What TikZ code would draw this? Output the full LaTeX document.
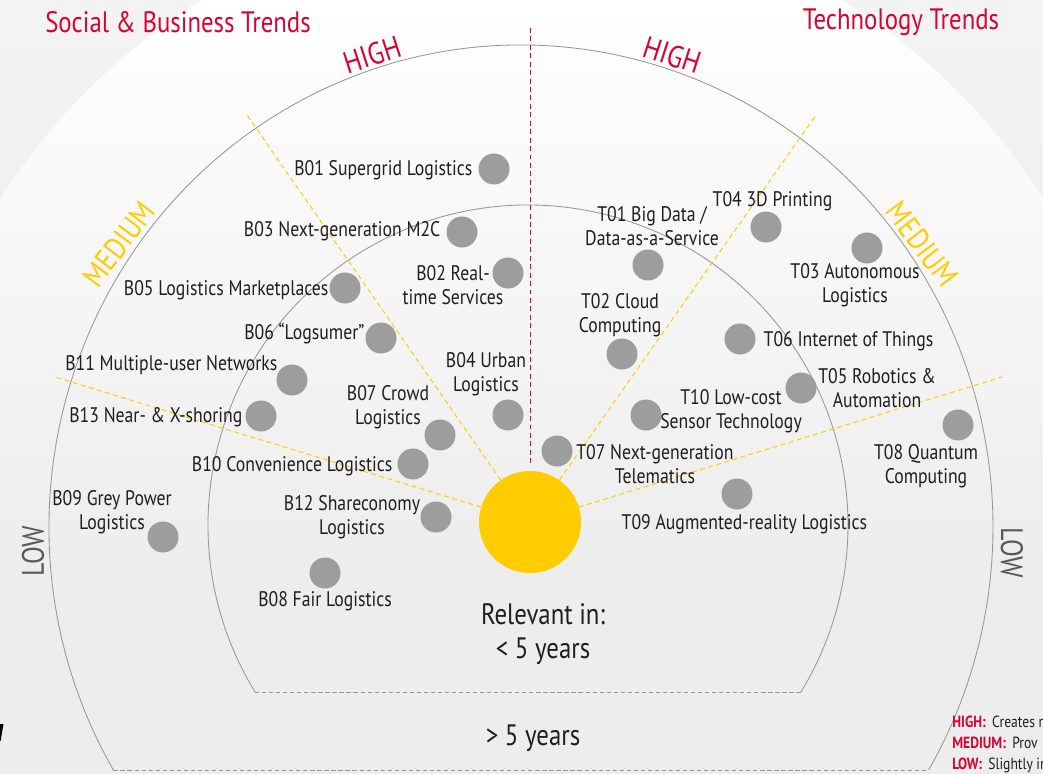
\documentclass[tikz,border=0pt]{standalone}
\usepackage{fontspec}
\setmainfont{PT Sans}[FakeStretch=0.84]
\usepackage{xcolor}
\usetikzlibrary{positioning, calc}
\definecolor{dhlred}{RGB}{212,5,50}
\definecolor{dhlyellow}{RGB}{255,204,0}
\definecolor{dotgray}{RGB}{157,157,157}
\definecolor{linegray}{RGB}{150,150,150}
\definecolor{bggray}{RGB}{237,237,237}
\definecolor{bgtop}{RGB}{243,243,243}
\definecolor{txt}{RGB}{30,30,30}

\tikzset{
  dot/.style={circle, fill=dotgray, inner sep=0pt, minimum size=0.775cm},
  lbl/.style={font=\fontsize{15}{17}\selectfont, text=txt, align=center, inner sep=1pt},
  level/.style={font=\fontsize{22}{24}\selectfont, inner sep=0pt},
  yline/.style={dhlyellow, line width=0.7pt, dash pattern=on 3.5pt off 2.5pt},
  arcline/.style={linegray, line width=0.6pt},
  legend/.style={font=\fontsize{11.5}{13}\selectfont, text=txt, anchor=west, inner sep=0pt},
}

\begin{document}
\begin{tikzpicture}[x=0.025cm, y=0.025cm]
  \useasboundingbox (0,0) rectangle (1043,-774);
  % background
  \fill[bggray] (0,0) rectangle (1043,-774);
  \shade[top color=bgtop, bottom color=bggray] (0,0) rectangle (1043,-560);
  \begin{scope}
    \clip (522,-527) circle (616);
    \shade[top color=white, bottom color=bggray] (0,0) rectangle (1043,-560);
  \end{scope}

  % rings
  \coordinate (o-l) at ($(521,-527)+(210.28:472 and 482)$);
  \coordinate (o-r) at ($(521,-527)+(-30.28:472 and 482)$);
  \coordinate (i-l) at ($(528,-525)+(211.46:320)$);
  \coordinate (i-r) at ($(528,-525)+(-31.46:320)$);
  \draw[arcline] (o-l) arc[start angle=210.28, end angle=-30.28, x radius=472, y radius=482];
  \draw[arcline] (i-l) arc[start angle=211.46, end angle=-31.46, radius=320];
  \draw[arcline, dash pattern=on 3pt off 2pt] (o-l) -- (o-r);
  \draw[arcline, dash pattern=on 3pt off 2pt] (i-l) -- (i-r);

  % sun and sector lines
  \node[circle, fill=dhlyellow, inner sep=0pt, minimum size=2.55cm] (sun) at (530,-522) {};
  \coordinate (rtop) at (530,-28);
  \coordinate (e1) at (247,-115);
  \coordinate (e2) at (816,-115);
  \coordinate (e3) at (55,-377);
  \coordinate (e4) at (1002,-377);
  \draw[dhlred, line width=0.7pt, dash pattern=on 3.5pt off 2.5pt] (rtop) -- ([yshift=3.5pt]sun.north);
  \draw[yline] (sun.125) -- (e1);
  \draw[yline] (sun.55) -- (e2);
  \draw[yline] (sun.163) -- (e3);
  \draw[yline] (sun.17) -- (e4);

  % titles and levels
  \node[font=\fontsize{21}{24}\selectfont, text=dhlred] (ttl-b) at (178,-22) {Social \& Business Trends};
  \node[font=\fontsize{21}{24}\selectfont, text=dhlred] (ttl-t) at (901,-22) {Technology Trends};
  \node[level, text=dhlred, rotate=18] (hi-b) at (372,-55) {HIGH};
  \node[level, text=dhlred, rotate=-18] (hi-t) at (672,-55) {HIGH};
  \node[level, text=dhlyellow, rotate=53] (med-b) at (119,-244) {MEDIUM};
  \node[level, text=dhlyellow, rotate=-53] (med-t) at (922,-244) {MEDIUM};
  \node[level, text=black!65, rotate=90] (low-b) at (33,-551) {LOW};
  \node[level, text=black!65, rotate=-90] (low-t) at (1012,-553) {LOW};

  % trend dots
  \foreach \n/\x/\y in {b01/494/169, b03/462/232, b02/508/273, b05/345/288, b06/381/338,
      b11/292/380, b13/261/416, b04/508/415, b07/440/435, b10/413/464, b12/436/517,
      b09/163/537, b08/325/573, t01/648/265, t04/766/227, t03/867/248, t02/622/354,
      t06/740/339, t05/801/388, t10/646/415, t07/557/451, t08/958/425, t09/737/494}
    \node[dot] (\n) at (\x,-\y) {};

  % social & business labels
  \node[lbl, anchor=east] (b01-l) at (474,-170) {B01 Supergrid Logistics};
  \node[lbl, anchor=east] (b03-l) at (442,-231) {B03 Next-generation M2C};
  \node[lbl] (b02-l) at (453,-285) {B02 Real-\\time Services};
  \node[lbl, anchor=east] (b05-l) at (330,-290) {B05 Logistics Marketplaces};
  \node[lbl, anchor=east] (b06-l) at (366,-334) {B06 “Logsumer”};
  \node[lbl, anchor=east] (b11-l) at (279,-365) {B11 Multiple-user Networks};
  \node[lbl, anchor=east] (b13-l) at (244,-417) {B13 Near- \& X-shoring};
  \node[lbl] (b07-l) at (388,-407) {B07 Crowd\\Logistics};
  \node[lbl] (b04-l) at (486,-374) {B04 Urban\\Logistics};
  \node[lbl, anchor=east] (b10-l) at (394,-466) {B10 Convenience Logistics};
  \node[lbl] (b12-l) at (352,-517) {B12 Shareconomy\\Logistics};
  \node[lbl] (b09-l) at (112,-512) {B09 Grey Power\\Logistics};
  \node[lbl] (b08-l) at (325,-601) {B08 Fair Logistics};

  % technology labels
  \node[lbl] (t01-l) at (652,-226) {T01 Big Data /\\Data-as-a-Service};
  \node[lbl, anchor=west] (t04-l) at (711,-201) {T04 3D Printing};
  \node[lbl] (t02-l) at (620,-315) {T02 Cloud\\Computing};
  \node[lbl] (t03-l) at (855,-285) {T03 Autonomous\\Logistics};
  \node[lbl, anchor=west] (t06-l) at (762,-341) {T06 Internet of Things};
  \node[lbl] (t05-l) at (877,-388) {T05 Robotics \&\\Automation};
  \node[lbl] (t10-l) at (731,-411) {T10 Low-cost\\Sensor Technology};
  \node[lbl] (t07-l) at (655,-464) {T07 Next-generation\\Telematics};
  \node[lbl] (t08-l) at (926,-466) {T08 Quantum\\Computing};
  \node[lbl, anchor=west] (t09-l) at (620,-524) {T09 Augmented-reality Logistics};

  % time horizons
  \node[lbl, font=\fontsize{21}{24}\selectfont] (near) at (543,-634) {Relevant in:\\< 5 years};
  \node[lbl, font=\fontsize{21}{24}\selectfont] (far) at (533,-738) {> 5 years};

  % legend (cut at the edge)
  \node[legend] (lg-hi) at (952,-722) {\textbf{\color{dhlred}HIGH:}\, Creates r};
  \node[legend] (lg-med) at (952,-743) {\textbf{\color{dhlred}MEDIUM:}\, Prov};
  \node[legend] (lg-low) at (952,-765) {\textbf{\color{dhlred}LOW:}\, Slightly in};
  \fill[black] (0,-724) -- (3.5,-724) -- (0.6,-741) -- (0,-741) -- cycle;
\end{tikzpicture}
\end{document}
